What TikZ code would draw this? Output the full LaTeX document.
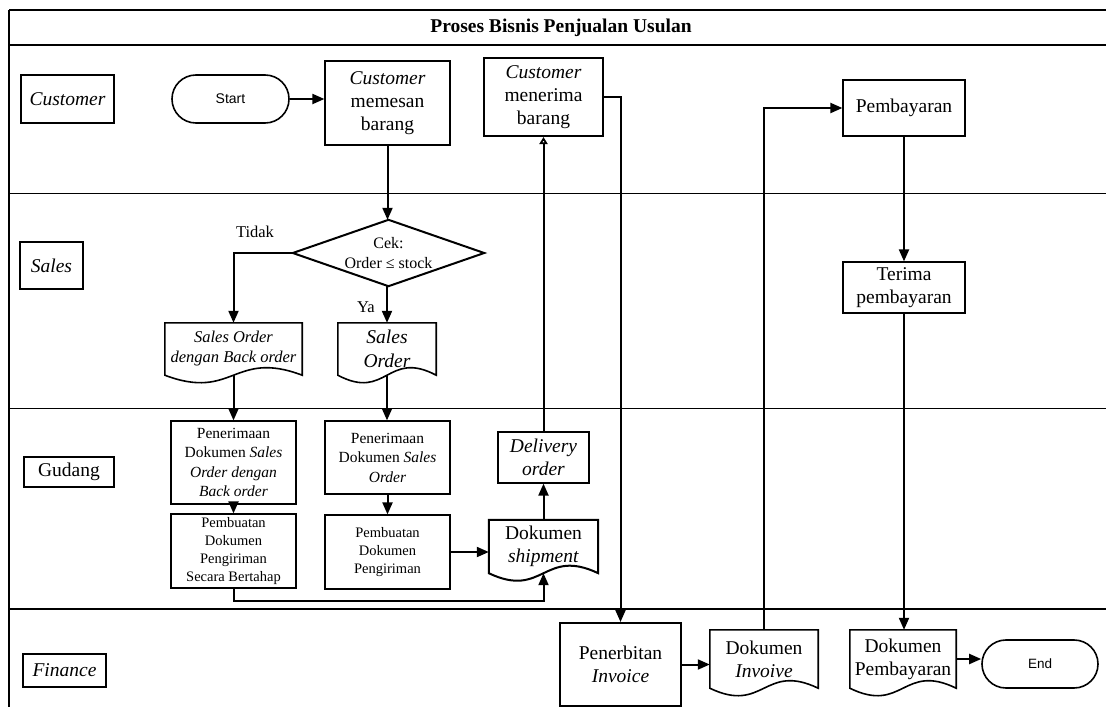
\documentclass[tikz,border=0pt]{standalone}
\usepackage{fontspec}
\setmainfont{Liberation Serif}
\newfontfamily\arialf{Liberation Sans}
\usetikzlibrary{arrows.meta,calc}
\newcommand\myfs[2]{\fontsize{#1}{#2}\selectfont}
\newcommand\docoutline[2]{%
  \draw[line width=#2] (#1.south west) -- (#1.north west) -- (#1.north east) -- (#1.south east)
    .. controls ($(#1.south)+(0,-26)$) and ($(#1.south)+(0,26)$) .. (#1.south west) -- cycle;}
\newcommand\diaoutline[2]{%
  \draw[line width=#2] (#1.west) -- (#1.north) -- (#1.east) -- (#1.south) -- cycle;}
\begin{document}
\begin{tikzpicture}[x=1pt,y=-1pt,
  box/.style={draw, line width=1.2pt, align=center, inner sep=0pt, font=\myfs{19.5}{23}},
  thickbox/.style={box, line width=2pt},
  lane/.style={draw, line width=1.1pt, inner sep=0pt, font=\myfs{19.5}{23}\itshape},
  term/.style={draw, line width=1.6pt, rounded corners=23.9pt, inner sep=0pt, font=\arialf\myfs{14}{16}},
  doc/.style={inner sep=0pt, align=center, font=\myfs{19.5}{23}},
  conn/.style={line width=2pt, -{Triangle[length=12pt,width=10pt]}},
  opentip/.style={line width=2pt, -{Triangle[open,length=7pt,width=8pt]}},
  lbl/.style={inner sep=0pt, font=\myfs{16.5}{19}}
]
\useasboundingbox (0,0) rectangle (1106,707);
\fill[white] (0,0) rectangle (1106,707);
% frame and lanes
\draw[line width=2.2pt] (9,10) -- (1106,10);
\draw[line width=2.2pt] (9,45) -- (1106,45);
\draw[line width=1.6pt] (9,10) -- (9,707);
\draw[line width=1.6pt] (9,193.5) -- (1106,193.5);
\draw[line width=1.6pt] (9,408.5) -- (1106,408.5);
\draw[line width=1.6pt] (9,609) -- (1106,609);
\node[font=\bfseries\myfs{19.5}{23}] (title) at (561,27.5) {Proses Bisnis Penjualan Usulan};
% lane labels
\node[lane, minimum width=93pt, minimum height=48pt] (lcust) at (67.5,99) {Customer};
\node[lane, minimum width=63pt, minimum height=47pt] (lsales) at (51.5,265.5) {Sales};
\node[lane, font=\myfs{19.5}{23}, minimum width=90pt, minimum height=30pt] (lgud) at (69,472) {Gudang};
\node[lane, minimum width=83pt, minimum height=33pt] (lfin) at (64.5,670.5) {Finance};
% customer lane
\node[term, minimum width=117pt, minimum height=48pt] (start) at (230.5,99) {Start};
\node[box, minimum width=125pt, minimum height=84pt] (memesan) at (387.5,103) {\textit{Customer}\\memesan\\barang};
\node[thickbox, minimum width=119pt, minimum height=78pt] (menerima) at (543.5,97) {\textit{Customer}\\menerima\\barang};
\node[box, minimum width=122pt, minimum height=56pt] (pembayaran) at (904,108) {Pembayaran};
% sales lane
\node[inner sep=0pt, align=center, font=\myfs{16}{20}, minimum width=191pt, minimum height=66pt] (dia) at (388.5,253) {Cek:\\Order ≤ stock};
\diaoutline{dia}{2pt}
\node[lbl] (tidak) at (255,232) {Tidak};
\node[lbl] (ya) at (366,307) {Ya};
\node[doc, font=\myfs{16.5}{20}, minimum width=137pt, minimum height=52pt] (sobo) at (233.5,349) {\textit{Sales Order}\\\textit{dengan Back order}};
\docoutline{sobo}{1.6pt}
\node[doc, font=\myfs{19.5}{24}, minimum width=98pt, minimum height=52pt] (so) at (387,349) {\textit{Sales}\\\textit{Order}};
\docoutline{so}{1.6pt}
\node[box, minimum width=122pt, minimum height=51pt] (terima) at (904,287.5) {Terima\\pembayaran};
% gudang lane
\node[box, font=\myfs{15.5}{19.5}, minimum width=125pt, minimum height=83pt] (penBO) at (233.5,462.5) {Penerimaan\\Dokumen \textit{Sales}\\\textit{Order dengan}\\\textit{Back order}};
\node[box, font=\myfs{14.5}{18}, minimum width=125pt, minimum height=74pt] (pembBO) at (233.5,551) {Pembuatan\\Dokumen\\Pengiriman\\Secara Bertahap};
\node[box, font=\myfs{15.5}{19.5}, minimum width=125pt, minimum height=73pt] (penSO) at (387.5,457.5) {Penerimaan\\Dokumen \textit{Sales}\\\textit{Order}};
\node[box, font=\myfs{14.5}{18}, minimum width=125pt, minimum height=74pt] (pembSO) at (387.5,552) {Pembuatan\\Dokumen\\Pengiriman};
\node[box, minimum width=91pt, minimum height=51pt] (deliv) at (543.5,457.5) {\textit{Delivery}\\\textit{order}};
\node[doc, minimum width=109pt, minimum height=53pt] (ship) at (543.5,546.5) {Dokumen\\\textit{shipment}};
\docoutline{ship}{2pt}
% finance lane
\node[thickbox, minimum width=121pt, minimum height=83pt] (penerbitan) at (620.5,664.5) {Penerbitan\\\textit{Invoice}};
\node[doc, minimum width=108pt, minimum height=58pt] (invoive) at (764,659) {Dokumen\\\textit{Invoive}};
\docoutline{invoive}{1.6pt}
\node[doc, minimum width=106pt, minimum height=58pt] (dokpem) at (903,659) {Dokumen\\Pembayaran};
\docoutline{dokpem}{1.6pt}
\node[term, font=\arialf\myfs{13.5}{16}, minimum width=116pt, minimum height=48pt] (end) at (1040,664) {End};
% connectors
\draw[conn] (start.east) -- (start.east -| memesan.west);
\draw[conn] (memesan.south) -- (memesan.south |- dia.north);
\draw[conn] (dia.west) -| (sobo.north);
\draw[conn] (so.north |- dia.south) -- (so.north);
\draw[conn] (sobo.south) -- (penBO.north);
\draw[conn] (so.south) -- (so.south |- penSO.north);
\draw[conn] (penBO.south) -- (pembBO.north);
\draw[conn] (penSO.south) -- (pembSO.north);
\draw[conn] (pembSO.east) -- (pembSO.east -| ship.west);
\draw[conn] (pembBO.south) -- ++(0,12) -| (ship.south);
\draw[conn] (ship.north) -- (deliv.south);
\draw[opentip] (deliv.north) -- (deliv.north |- menerima.south);
\draw[conn] (menerima.east) -| (penerbitan.north);
\draw[conn] (penerbitan.east) -- (penerbitan.east -| invoive.west);
\draw[conn] (invoive.north) |- (pembayaran.west);
\draw[conn] (pembayaran.south) -- (pembayaran.south |- terima.north);
\draw[conn] (terima.south) -- (terima.south |- dokpem.north);
\draw[conn] (dokpem.east) -- (dokpem.east -| end.west);
\end{tikzpicture}
\end{document}
